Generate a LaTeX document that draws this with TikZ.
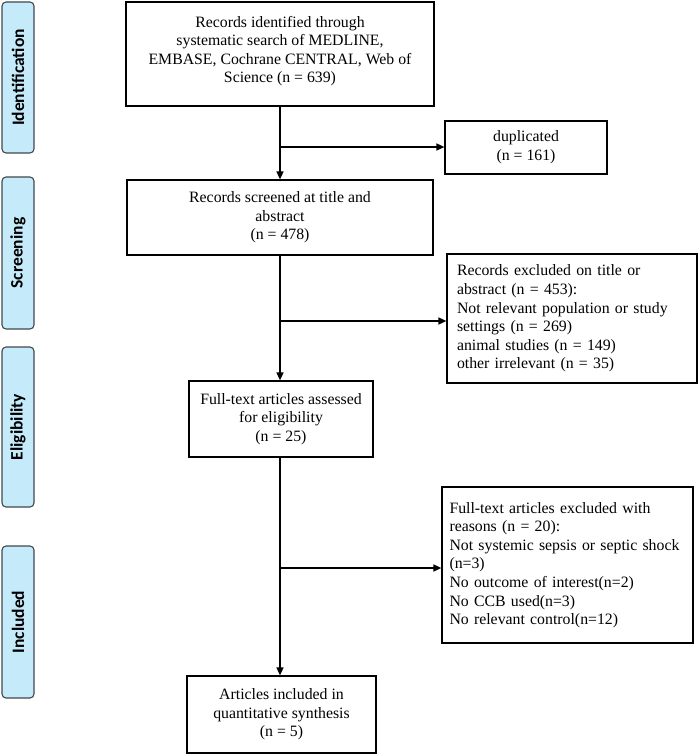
\documentclass[tikz,border=0pt]{standalone}
\usepackage{fontspec}
\setmainfont{Liberation Serif}
\newfontfamily\sidefont{Carlito}
\usetikzlibrary{arrows.meta}
\definecolor{sidefill}{RGB}{197,235,251}
\definecolor{sideline}{RGB}{64,72,76}
\tikzset{
  box/.style={draw=black, line width=1.2pt, inner sep=0pt, fill=white,
    font=\fontsize{15.8}{18.6}\selectfont},
  cbox/.style={box, align=center},
  lbox/.style={box, align=left},
  side/.style={draw=sideline, fill=sidefill, line width=1.1pt, rounded corners=4pt,
    rotate=90, inner sep=0pt, minimum height=32pt,
    font=\sidefont\bfseries\fontsize{17.5}{19}\selectfont},
  arr/.style={line width=1.5pt, -{Triangle[length=8pt,width=7pt]}},
  ln/.style={line width=1.5pt}
}
\begin{document}
\begin{tikzpicture}[x=1pt,y=-1pt]
\useasboundingbox (0,0) rectangle (699,754);
% side labels
\node[side, minimum width=151pt] (s1) at (18,77.5) {Identification};
\node[side, minimum width=152pt] (s2) at (18,253) {Screening};
\node[side, minimum width=160pt] (s3) at (18,427) {Eligibility};
\node[side, minimum width=152pt] (s4) at (18,622) {Included};
% main boxes
\node[cbox, minimum width=308pt, minimum height=104pt] (b1) at (280,54)
  {Records identified through\\systematic search of MEDLINE,\\EMBASE, Cochrane CENTRAL, Web of\\Science (n = 639)\\[-9.6pt]};
\node[cbox, minimum width=306pt, minimum height=75pt] (b2) at (280,217.5)
  {Records screened at title and\\abstract\\(n = 478)};
\node[cbox, minimum width=184pt, minimum height=76pt] (b3) at (281,419)
  {Full-text articles assessed\\for eligibility\\(n = 25)};
\node[cbox, minimum width=189pt, minimum height=77pt] (b4) at (281.5,714.5)
  {Articles included in\\quantitative synthesis\\(n = 5)};
% side boxes
\node[cbox, minimum width=162pt, minimum height=53pt] (d1) at (526,147.5)
  {duplicated\\(n = 161)};
\node[lbox, inner xsep=10pt, text width=230pt, minimum height=129pt] (e1) at (572,318.5)
  {Records excluded on title or\\abstract (n = 453):\\Not relevant population or study\\settings (n = 269)\\animal studies (n = 149)\\other irrelevant (n = 35)};
\node[lbox, inner xsep=7.5pt, text width=236pt, minimum height=156pt] (e2) at (567.5,565)
  {Full-text articles excluded with\\reasons (n = 20):\\Not systemic sepsis or septic shock\\(n=3)\\No outcome of interest(n=2)\\No CCB used(n=3)\\No relevant control(n=12)};
% connectors
\coordinate (t1) at (280,147);
\coordinate (t2) at (280,321);
\coordinate (t3) at (280,568);
\draw[arr] (b1.south -| t1) -- (b2.north -| t1);
\draw[arr] (t1) -- (d1.west |- t1);
\draw[arr] (b2.south -| t2) -- (b3.north -| t2);
\draw[arr] (t2) -- (e1.west |- t2);
\draw[arr] (b3.south -| t3) -- (b4.north -| t3);
\draw[arr] (t3) -- (e2.west |- t3);
\end{tikzpicture}
\end{document}
